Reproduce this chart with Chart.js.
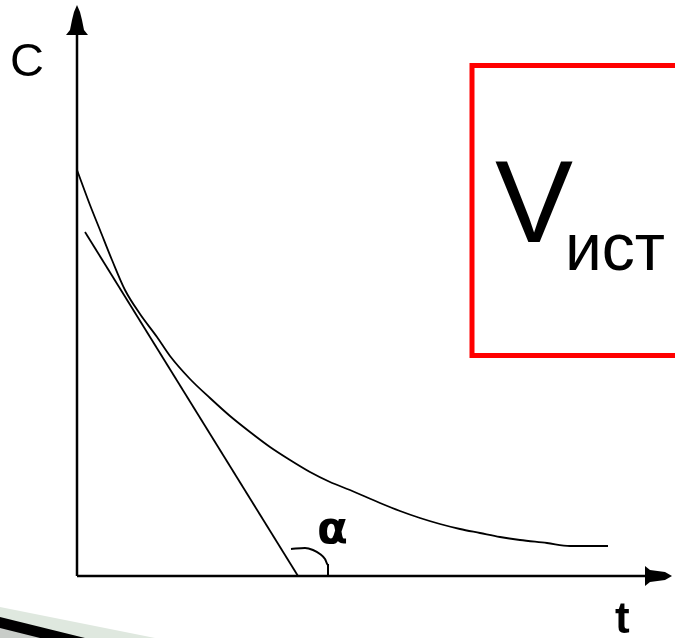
<!DOCTYPE html>
<html>
<head>
<meta charset="utf-8">
<script src="https://cdn.jsdelivr.net/npm/chart.js@4.4.1/dist/chart.umd.min.js"></script>
<style>
  html, body { margin: 0; padding: 0; background: #ffffff; }
  #wrap { width: 675px; height: 638px; }
</style>
</head>
<body>
<div id="wrap"><canvas id="chart" width="675" height="638"></canvas></div>
<script>
// Schematic units: t and C measured from the origin of the axes

// Concentration decay curve C(t)
const curveT = [0, 13, 23, 35, 48, 63, 80, 93, 113, 133, 153, 173, 193, 213, 233, 253, 273, 303, 323, 343, 363, 383, 403, 423, 443, 470, 493, 531];
const curveC = [406, 371, 346, 316, 286, 262, 239, 220, 197, 178, 160, 144, 129, 116, 104, 94, 86, 73, 65, 58, 52, 47, 43, 39, 36, 33, 30, 30];

// Tangent line at the start of the curve
const tangentT = [8, 221];
const tangentC = [344, 0];

// Angle mark between tangent and t axis
const arcT = [214, 228, 236, 243, 248, 251, 251];
const arcC = [27, 28, 26, 22, 17, 11, 0];

// Axes
const axisYT = [0, 0];
const axisYC = [0, 545];
const axisXT = [0, 570];
const axisXC = [0, 0];
const arrowYT = [0, -3, -5, -7, -11, 11, 7, 5, 3];
const arrowYC = [571, 564, 556, 546, 541, 541, 546, 556, 564];
const arrowXT = [595, 588, 573, 568, 568, 573, 588];
const arrowXC = [0, 4, 6, 10, -10, -6, -4];

// Red frame around the V label (runs off the right edge)
const frameT = [640, 395, 395, 640];
const frameC = [510.5, 510.5, 220.5, 220.5];

// Slide decoration in the lower left corner
const decoLightT = [-77, 78, -77];
const decoLightC = [-31, -62, -62];
const decoDarkT = [-77, 8, -77];
const decoDarkC = [-41, -62, -62];
const decoGreyT = [-77, -37, -77];
const decoGreyC = [-52, -62, -62];

// Text labels
const labelText = ['C', 't', 'α', 'V', 'ист'];
const labelT = [-67, 538, 240, 418, 488];
const labelC = [500, -57, 33, 334, 306];
const labelFont = [
  '47px "Liberation Sans"',
  'bold 44px "Liberation Sans"',
  'bold 45px "DejaVu Sans"',
  '117px "Liberation Sans"',
  '66px "Liberation Sans"'
];

function points(ts, cs) {
  return ts.map((t, i) => ({ x: t, y: cs[i] }));
}

function lineSet(ts, cs, width, color, smooth) {
  return {
    data: points(ts, cs),
    showLine: true,
    borderColor: color,
    borderWidth: width,
    pointRadius: 0,
    tension: smooth ? 0.4 : 0,
    cubicInterpolationMode: smooth ? 'monotone' : 'default',
    fill: false
  };
}

// Filled shapes and texts, placed through the chart scales
const shapesPlugin = {
  id: 'shapes',
  beforeDatasetsDraw(chart) {
    const ctx = chart.ctx;
    const sx = chart.scales.x, sy = chart.scales.y;
    const poly = (ts, cs, color) => {
      ctx.beginPath();
      ts.forEach((t, i) => {
        const px = sx.getPixelForValue(t), py = sy.getPixelForValue(cs[i]);
        if (i === 0) ctx.moveTo(px, py); else ctx.lineTo(px, py);
      });
      ctx.closePath();
      ctx.fillStyle = color;
      ctx.fill();
    };
    ctx.save();
    poly(decoLightT, decoLightC, '#dfe8df');
    poly(decoDarkT, decoDarkC, '#000000');
    poly(decoGreyT, decoGreyC, '#c8ccc8');
    poly(arrowYT, arrowYC, '#000000');
    poly(arrowXT, arrowXC, '#000000');
    ctx.restore();
  },
  afterDatasetsDraw(chart) {
    const ctx = chart.ctx;
    const sx = chart.scales.x, sy = chart.scales.y;
    ctx.save();
    ctx.fillStyle = '#000000';
    ctx.textAlign = 'left';
    ctx.textBaseline = 'alphabetic';
    labelText.forEach((txt, i) => {
      ctx.font = labelFont[i];
      ctx.fillText(txt, sx.getPixelForValue(labelT[i]), sy.getPixelForValue(labelC[i]));
    });
    ctx.restore();
  }
};

new Chart(document.getElementById('chart'), {
  type: 'scatter',
  data: {
    datasets: [
      lineSet(axisYT, axisYC, 2.5, '#000000'),
      lineSet(axisXT, axisXC, 2.5, '#000000'),
      lineSet(curveT, curveC, 1.8, '#000000', true),
      lineSet(tangentT, tangentC, 1.8, '#000000'),
      lineSet(arcT, arcC, 2, '#000000', true),
      lineSet(frameT, frameC, 5, '#ff0000')
    ]
  },
  options: {
    responsive: false,
    animation: false,
    layout: { padding: 0 },
    plugins: {
      legend: { display: false },
      tooltip: { enabled: false }
    },
    scales: {
      x: { type: 'linear', min: -77, max: 598, display: false },
      y: { type: 'linear', min: -62, max: 576, display: false }
    }
  },
  plugins: [shapesPlugin]
});
</script>
</body>
</html>
